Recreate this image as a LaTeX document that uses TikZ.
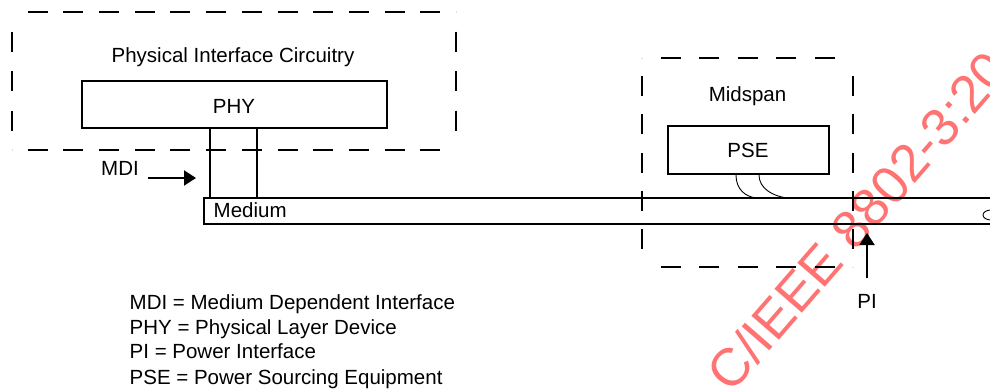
\documentclass[tikz,border=0pt]{standalone}
\usepackage{fontspec}
\setmainfont{Liberation Sans}
\usetikzlibrary{arrows.meta,decorations}
\definecolor{wmred}{RGB}{255,115,115}
\begin{document}
\begin{tikzpicture}[x=1pt,y=-1pt,
  box/.style={draw, line width=2pt, inner sep=0pt},
  dside/.style={line width=2.4pt, dash pattern=on 20pt off 14pt, dash expand off},
  lbl/.style={font=\fontsize{20.5}{24}\selectfont, inner sep=0pt},
  wire/.style={line width=2pt},
  thinwire/.style={line width=0.9pt},
  arr/.style={line width=2pt, -{Triangle[length=12pt,width=15pt]}},
  wmk/.style={font=\fontsize{53}{60}\selectfont, text=wmred, inner sep=0pt}
]
\useasboundingbox (0,0) rectangle (990,388);

% ---------- watermark ----------
\begin{scope}
  \clip (0,0) rectangle (990,388);
  \node[wmk, rotate=49, anchor=base west] (wm) at (731.8,394.9) {C/IEEE 8802-3:20};
\end{scope}

% ---------- Physical Interface Circuitry enclosure ----------
\coordinate (c1a) at (12,12);
\coordinate (c1b) at (456,12);
\coordinate (c1c) at (456,150);
\coordinate (c1d) at (12,150);
\draw[dside] (c1a) -- (c1b);
\draw[dside] (c1b) -- (c1c);
\draw[dside] (c1c) -- (c1d);
\draw[dside] (c1d) -- (c1a);
\node[lbl, anchor=base] (pic) at (233,62.5) {Physical Interface Circuitry};

% ---------- Midspan enclosure ----------
\coordinate (c2a) at (642,58);
\coordinate (c2b) at (853,58);
\coordinate (c2c) at (853,267);
\coordinate (c2d) at (642,267);
\draw[dside] (c2a) -- (c2b);
\draw[dside] (c2b) -- (c2c);
\draw[dside] (c2c) -- (c2d);
\draw[dside] (c2d) -- (c2a);
\node[lbl, anchor=base] (mid) at (747.5,101.5) {Midspan};

% ---------- boxes ----------
\node[box, minimum width=305pt, minimum height=47pt] (phy) at (234.5,104.5) {};
\node[lbl, anchor=base] (phyt) at (234,113.5) {PHY};
\node[box, minimum width=161pt, minimum height=48pt] (pse) at (748.5,150) {};
\node[lbl, anchor=base] (pset) at (748,157.5) {PSE};

% ---------- medium ----------
\coordinate (medTL) at (204,198);
\coordinate (medBL) at (204,224);
\coordinate (medTR) at (995,198);
\coordinate (medBR) at (995,224);
\draw[wire] (medTR) -- (medTL) -- (medBL) -- (medBR);
\node[lbl, anchor=base west] (med) at (213.5,217.5) {Medium};
\draw[thinwire] (991,215) ellipse [x radius=8pt, y radius=5pt];

% PHY to medium
\draw[wire] ([xshift=-24.5pt]phy.south) -- ([xshift=-24.5pt]phy.south |- medTL);
\draw[wire] ([xshift=22.5pt]phy.south) -- ([xshift=22.5pt]phy.south |- medTL);

% PSE to medium
\coordinate (pse1) at (757,198);
\coordinate (pse2) at (787,198);
\draw[thinwire] ([xshift=-12.5pt]pse.south) .. controls +(0,14) and +(-12,-1) .. (pse1);
\draw[thinwire] ([xshift=10.5pt]pse.south) .. controls +(0,13) and +(-15,-2) .. (pse2);

% ---------- MDI ----------
\node[lbl, anchor=base] (mdi) at (120,175) {MDI};
\coordinate (mdiT) at (148,178);
\coordinate (mdiH) at (196,178);
\draw[arr] (mdiT) -- (mdiH);

% ---------- PI ----------
\node[lbl, anchor=base] (pi) at (867,308) {PI};
\coordinate (piT) at (867,278);
\coordinate (piH) at (867,233);
\draw[arr] (piT) -- (piH);

% ---------- legend ----------
\node[lbl, anchor=base west] (lg1) at (129.5,309) {MDI = Medium Dependent Interface};
\node[lbl, anchor=base west] (lg2) at (129.5,334) {PHY = Physical Layer Device};
\node[lbl, anchor=base west] (lg3) at (129.5,358.5) {PI = Power Interface};
\node[lbl, anchor=base west] (lg4) at (129.5,384) {PSE = Power Sourcing Equipment};
\end{tikzpicture}
\end{document}
